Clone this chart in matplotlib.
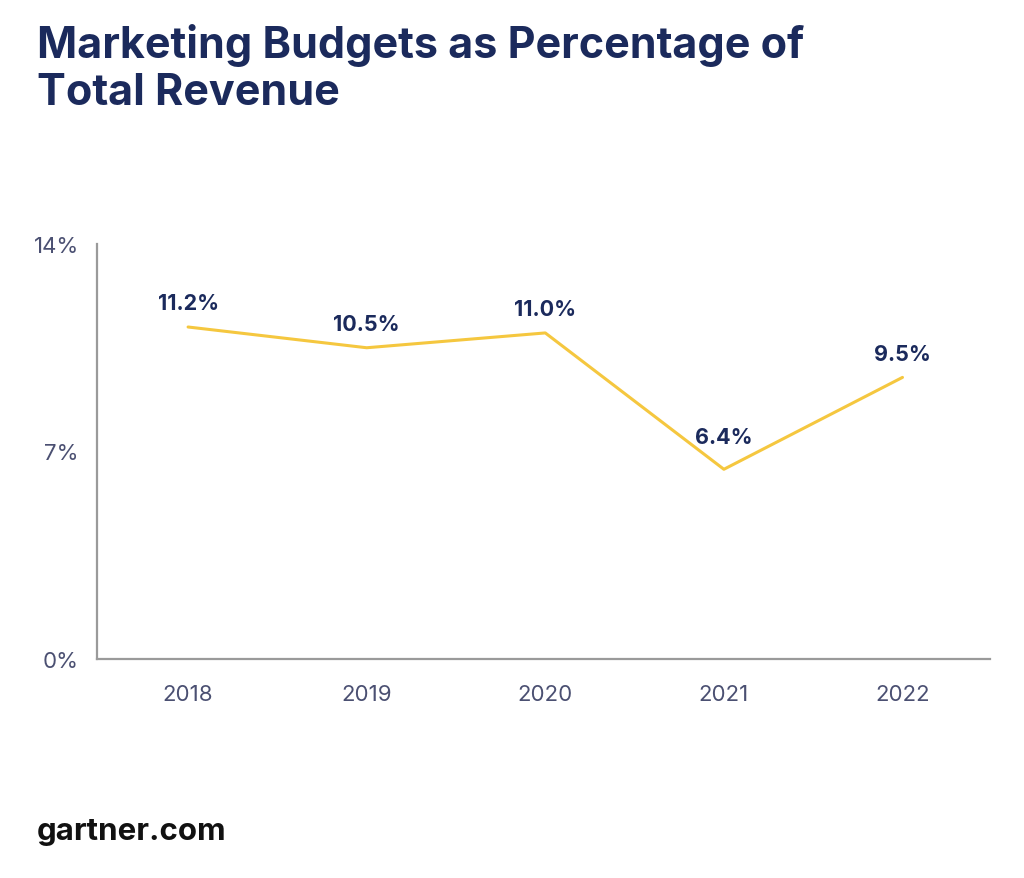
import matplotlib.pyplot as plt

# data
years = ['2018', '2019', '2020', '2021', '2022']
budget_pct = [11.2, 10.5, 11.0, 6.4, 9.5]
value_labels = ['11.2%', '10.5%', '11.0%', '6.4%', '9.5%']
y_ticks = [0, 7, 14]
y_tick_labels = ['0%', '7%', '14%']

navy = '#1b2a5c'
gold = '#f5c73f'
grey_txt = '#4b5072'

plt.rcParams['font.family'] = ['Inter', 'DejaVu Sans']

fig = plt.figure(figsize=(10.24, 8.79), dpi=100)
ax = fig.add_axes([97 / 1024, 1 - 660 / 879, 893 / 1024, 415 / 879])

x = list(range(len(years)))
ax.plot(x, budget_pct, color=gold, linewidth=2.2, solid_capstyle='round')

# value labels above points (2021 sits a bit higher in the original)
for i, (v, lab) in enumerate(zip(budget_pct, value_labels)):
    dy = 17 if i != 3 else 23
    ax.annotate(lab, (i, v), xytext=(0, dy), textcoords='offset points',
                ha='center', va='center', fontsize=15.5, fontweight='bold', color=navy)

ax.set_xlim(-0.51, 4.49)
ax.set_ylim(0, 14)
ax.set_xticks(x)
ax.set_xticklabels(years)
ax.set_yticks(y_ticks)
ax.set_yticklabels(y_tick_labels)
ax.tick_params(length=0, labelsize=16, colors=grey_txt)
ax.tick_params(axis='y', pad=13)
ax.tick_params(axis='x', pad=18)

for s in ['top', 'right']:
    ax.spines[s].set_visible(False)
for s in ['left', 'bottom']:
    ax.spines[s].set_color('#9a9a9a')
    ax.spines[s].set_linewidth(1.6)

fig.text(37 / 1024, 1 - 24 / 879, 'Marketing Budgets as Percentage of\nTotal Revenue',
         ha='left', va='top', fontsize=31, fontweight='bold', color=navy, linespacing=1.2)
fig.text(37 / 1024, 1 - 832 / 879, 'gartner.com', ha='left', va='center',
         fontsize=22.5, fontweight='bold', color='#111111')

fig.savefig('out.png', dpi=100, facecolor='white')
